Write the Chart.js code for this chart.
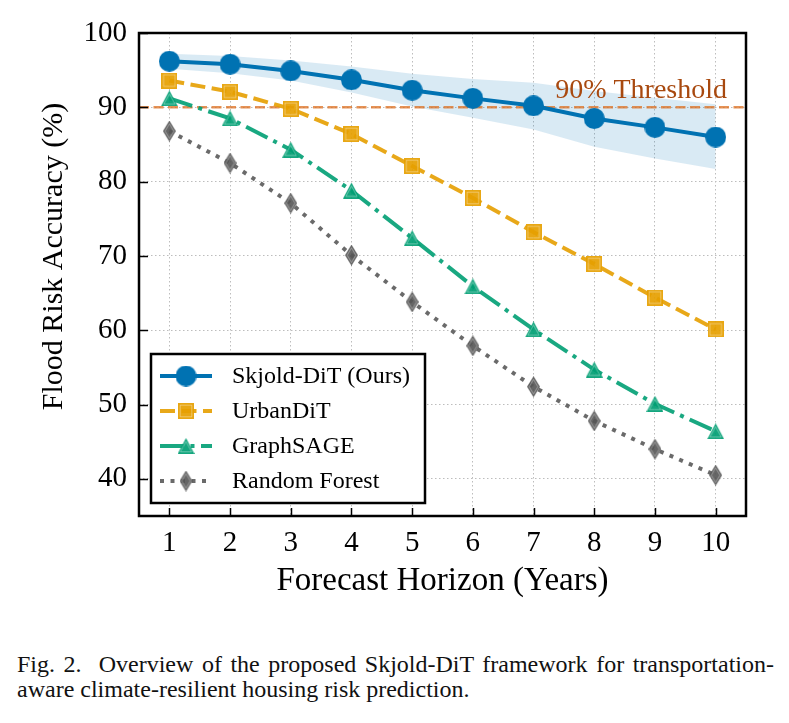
<!DOCTYPE html>
<html lang="en">
<head>
<meta charset="UTF-8">
<title>Flood Risk Accuracy vs Forecast Horizon</title>
<script src="https://cdn.jsdelivr.net/npm/chart.js"></script>
<style>
  body { margin: 0; background: #fff; }
  #wrap { position: relative; width: 789px; height: 723px; }
  #wrap canvas { position: absolute; left: 0; top: 0; }
  .cap {
    position: absolute; left: 17px; width: 757px;
    font-family: "Liberation Serif", "Times New Roman", serif;
    font-size: 24px; line-height: 25px; color: #111;
    white-space: nowrap;
  }
  .cap.first { text-align: justify; text-align-last: justify; white-space: normal; }
</style>
</head>
<body>
<div id="wrap">
  <canvas id="accChart" width="789" height="625"></canvas>
  <div class="cap first" style="top:652px">Fig. 2.&nbsp; Overview of the proposed Skjold-DiT framework for transportation-</div>
  <div class="cap" style="top:677px">aware climate-resilient housing risk prediction.</div>
</div>
<script>
// data
const years = [1, 2, 3, 4, 5, 6, 7, 8, 9, 10];
const skjold = [96.2, 95.8, 94.9, 93.7, 92.3, 91.2, 90.2, 88.5, 87.3, 86.0];
const skjoldUpper = [97.2, 96.9, 96.3, 95.5, 94.5, 93.8, 93.3, 92.2, 91.3, 90.4];
const skjoldLower = [95.2, 94.6, 93.6, 92.0, 90.1, 88.6, 87.0, 84.7, 83.1, 81.7];
const urbanDiT = [93.6, 92.1, 89.8, 86.4, 82.1, 77.8, 73.2, 68.9, 64.4, 60.1];
const graphSAGE = [91.2, 88.5, 84.3, 78.8, 72.4, 65.9, 60.1, 54.7, 50.1, 46.4];
const randomForest = [86.8, 82.5, 77.1, 70.1, 63.8, 57.9, 52.4, 47.8, 44.0, 40.5];
const threshold = 90;
const thresholdLabel = '90% Threshold';
const seriesNames = ['Skjold-DiT (Ours)', 'UrbanDiT', 'GraphSAGE', 'Random Forest'];
const xTicks = [1, 2, 3, 4, 5, 6, 7, 8, 9, 10];
const yTicks = [40, 50, 60, 70, 80, 90, 100];
const xRange = [0.5, 10.5];
const yRange = [35, 100];
const xTitle = 'Forecast Horizon (Years)';
const yTitle = 'Flood Risk Accuracy (%)';

const SERIF = '"Liberation Serif", "Times New Roman", serif';

function pts(arr) {
  return years.map((x, i) => ({ x: x, y: arr[i] }));
}

// marker images (matplotlib-like shapes)
function makeMarker(shape, w, h, fill) {
  const c = document.createElement('canvas');
  c.width = w; c.height = h;
  const g = c.getContext('2d');
  const path = (inset) => {
    g.beginPath();
    if (shape === 'circle') {
      g.arc(w / 2, h / 2, w / 2 - inset, 0, Math.PI * 2);
    } else if (shape === 'square') {
      g.rect(inset, inset, w - 2 * inset, h - 2 * inset);
    } else if (shape === 'triangle') {
      g.moveTo(w / 2, inset * 1.6);
      g.lineTo(w - inset * 1.3, h - inset);
      g.lineTo(inset * 1.3, h - inset);
      g.closePath();
    } else if (shape === 'diamond') {
      g.moveTo(w / 2, inset * 1.5);
      g.lineTo(w - inset, h / 2);
      g.lineTo(w / 2, h - inset * 1.5);
      g.lineTo(inset, h / 2);
      g.closePath();
    }
  };
  path(0);
  g.fillStyle = fill;
  g.fill();
  if (shape !== 'circle') {
    path(2.2);
    g.strokeStyle = 'rgba(255,255,255,0.35)';
    g.lineWidth = 1;
    g.stroke();
  }
  return c;
}

const styles = [
  { color: '#0072B2', dash: [], marker: makeMarker('circle', 21, 21, '#0072B2') },
  { color: 'rgba(230,159,0,0.9)', dash: [15, 6.5], marker: makeMarker('square', 16, 16, 'rgba(230,159,0,0.92)') },
  { color: 'rgba(0,158,115,0.9)', dash: [24, 6.5, 4, 6.5], marker: makeMarker('triangle', 17, 16, 'rgba(0,158,115,0.92)') },
  { color: 'rgba(90,90,90,0.9)', dash: [4, 6.5], marker: makeMarker('diamond', 13, 21, 'rgba(85,85,85,0.9)') }
];
const seriesData = [skjold, urbanDiT, graphSAGE, randomForest];

const lineSets = seriesData.map((arr, i) => ({
  label: seriesNames[i],
  data: pts(arr),
  borderColor: styles[i].color,
  backgroundColor: styles[i].color,
  borderWidth: 4,
  borderDash: styles[i].dash,
  borderCapStyle: 'butt',
  pointStyle: styles[i].marker,
  pointRadius: 9,
  fill: false,
  tension: 0,
  order: i + 1
}));

const frameAndTicks = {
  id: 'frameAndTicks',
  afterDraw(chart) {
    const { ctx, chartArea: ca, scales } = chart;
    ctx.save();
    // inward tick marks, left and bottom
    ctx.strokeStyle = '#000';
    ctx.lineWidth = 1.5;
    yTicks.forEach(v => {
      const y = Math.round(scales.y.getPixelForValue(v)) + 0.5;
      ctx.beginPath(); ctx.moveTo(ca.left, y); ctx.lineTo(ca.left + 9, y); ctx.stroke();
    });
    xTicks.forEach(v => {
      const x = Math.round(scales.x.getPixelForValue(v)) + 0.5;
      ctx.beginPath(); ctx.moveTo(x, ca.bottom); ctx.lineTo(x, ca.bottom - 8); ctx.stroke();
    });
    // frame
    ctx.lineWidth = 2.5;
    ctx.strokeRect(ca.left, ca.top, ca.right - ca.left, ca.bottom - ca.top);

    // threshold label
    ctx.fillStyle = '#a8490f';
    ctx.font = '28px ' + SERIF;
    ctx.textAlign = 'right';
    ctx.textBaseline = 'alphabetic';
    ctx.fillText(thresholdLabel, ca.right - 19, scales.y.getPixelForValue(threshold) - 9);

    // y title, drawn by hand so it can sit a bit above the middle
    ctx.save();
    ctx.translate(ca.left - 85, (ca.top + ca.bottom) / 2 - 18);
    ctx.rotate(-Math.PI / 2);
    ctx.fillStyle = '#000';
    ctx.font = '30px ' + SERIF;
    ctx.textAlign = 'center';
    ctx.textBaseline = 'middle';
    ctx.fillText(yTitle, 0, 0);
    ctx.restore();

    // legend box
    const bx = ca.left + 12, bw = 274, bh = 149, by = ca.bottom - 13 - bh;
    ctx.fillStyle = '#fff';
    ctx.fillRect(bx, by, bw, bh);
    ctx.lineWidth = 2.5;
    ctx.strokeStyle = '#000';
    ctx.strokeRect(bx, by, bw, bh);
    ctx.font = '24px ' + SERIF;
    ctx.textAlign = 'left';
    ctx.textBaseline = 'middle';
    seriesNames.forEach((name, i) => {
      const ry = by + 22 + i * 35;
      const st = styles[i];
      ctx.strokeStyle = st.color;
      ctx.lineWidth = 4;
      ctx.lineCap = 'butt';
      ctx.setLineDash(st.dash);
      ctx.beginPath(); ctx.moveTo(bx + 9, ry); ctx.lineTo(bx + 61, ry); ctx.stroke();
      ctx.setLineDash([]);
      ctx.drawImage(st.marker, bx + 35 - st.marker.width / 2, ry - st.marker.height / 2);
      ctx.fillStyle = '#000';
      ctx.fillText(name, bx + 81, ry + 1);
    });
    ctx.restore();
  }
};

const ctx = document.getElementById('accChart').getContext('2d');
new Chart(ctx, {
  type: 'line',
  data: {
    datasets: [
      {
        label: 'band upper',
        data: pts(skjoldUpper),
        borderWidth: 0,
        pointRadius: 0,
        fill: 1,
        backgroundColor: 'rgba(0,114,178,0.15)',
        order: 10
      },
      {
        label: 'band lower',
        data: pts(skjoldLower),
        borderWidth: 0,
        pointRadius: 0,
        fill: false,
        order: 11
      },
      {
        label: 'threshold',
        data: [{ x: xRange[0], y: threshold }, { x: xRange[1], y: threshold }],
        borderColor: 'rgba(220,110,30,0.75)',
        borderWidth: 2.5,
        borderDash: [10, 4.5],
        pointRadius: 0,
        fill: false,
        order: 9
      },
      ...lineSets
    ]
  },
  options: {
    responsive: false,
    animation: false,
    events: [],
    layout: { padding: { top: 33, right: 43, left: 0, bottom: 0 } },
    plugins: {
      legend: { display: false },
      tooltip: { enabled: false }
    },
    scales: {
      x: {
        type: 'linear',
        min: xRange[0],
        max: xRange[1],
        afterBuildTicks: s => { s.ticks = xTicks.map(v => ({ value: v })); },
        afterFit: s => { s.height = 625 - 516; },
        ticks: { color: '#000', font: { family: SERIF, size: 29 }, padding: 10, maxRotation: 0 },
        grid: { color: '#bdbdbd', lineWidth: 1, drawTicks: false },
        border: { display: false, dash: [1.5, 2.5] },
        title: {
          display: true, text: xTitle, color: '#000',
          font: { family: SERIF, size: 33 },
          padding: { top: 0, bottom: 24 }
        }
      },
      y: {
        type: 'linear',
        min: yRange[0],
        max: yRange[1],
        afterBuildTicks: s => { s.ticks = yTicks.map(v => ({ value: v })); },
        afterFit: s => { s.width = 139; },
        ticks: { color: '#000', font: { family: SERIF, size: 29 }, padding: 12 },
        grid: { color: '#bdbdbd', lineWidth: 1, drawTicks: false },
        border: { display: false, dash: [1.5, 2.5] }
      }
    }
  },
  plugins: [frameAndTicks]
});
</script>
</body>
</html>
